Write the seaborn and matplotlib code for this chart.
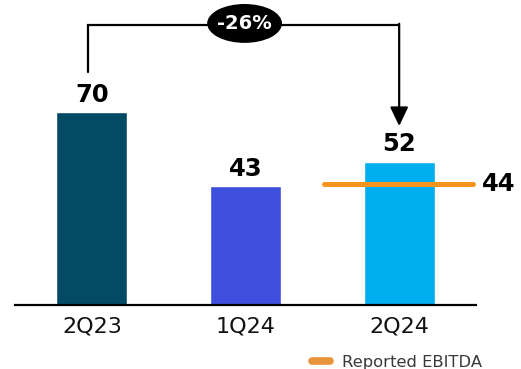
import matplotlib
matplotlib.use("Agg")
import matplotlib.pyplot as plt
from matplotlib.lines import Line2D
from matplotlib.patches import Ellipse
import seaborn as sns
import pandas as pd

# Quarterly EBITDA figures
quarters = ["2Q23", "1Q24", "2Q24"]
ebitda = [70, 43, 52]
bar_colors = ["#034A64", "#3F4FDD", "#00AEEF"]
reported_ebitda = 44
change_label = "-26%"
legend_label = "Reported EBITDA"

sns.set_theme(style="white")
plt.rcParams["font.family"] = ["DejaVu Sans"]

df = pd.DataFrame({"quarter": quarters, "ebitda": ebitda})

fig = plt.figure(figsize=(5.21, 3.69), dpi=100)
ax = fig.add_axes([15 / 521, 1 - 305 / 369, 461 / 521, 305 / 369])

sns.barplot(data=df, x="quarter", y="ebitda", hue="quarter",
            palette=bar_colors, width=0.46, legend=False, ax=ax,
            saturation=1)

ax.set_xlim(-0.5, 2.5)
ax.set_ylim(0, 110.6)
ax.set_xlabel("")
ax.set_ylabel("")
ax.set_yticks([])
for side in ["top", "left", "right"]:
    ax.spines[side].set_visible(False)
ax.spines["bottom"].set_color("black")
ax.spines["bottom"].set_linewidth(1.6)
ax.tick_params(axis="x", length=0, pad=8.5, labelsize=16, labelcolor="#111111")

# Value labels above the bars
for i, v in enumerate(ebitda):
    ax.annotate(f"{v}", xy=(i, v), xytext=(0, 7.5), textcoords="offset points",
                ha="center", va="baseline", fontsize=17.5, fontweight="bold",
                color="black")

# Reported EBITDA marker on the latest quarter
orange = "#F7941D"
ax.plot([1.51, 2.48], [reported_ebitda, reported_ebitda], color=orange,
        lw=3.6, solid_capstyle="round", zorder=3)
ax.text(2.54, reported_ebitda, f"{reported_ebitda}", ha="left", va="center",
        fontsize=17.5, fontweight="bold", color="black", clip_on=False)

# Change bracket from 2Q23 to 2Q24
y_top = 101.7
ax.plot([-0.022, -0.022, 2.0], [84.5, y_top, y_top], color="black", lw=1.6,
        solid_joinstyle="miter", zorder=4, clip_on=False)
ax.annotate("", xy=(2.0, 64.9), xytext=(2.0, y_top + 0.29),
            arrowprops=dict(arrowstyle="-|>,head_length=1.15,head_width=0.55",
                            mutation_scale=10, lw=1.6, color="black",
                            shrinkA=0, shrinkB=0),
            zorder=4)
ax.add_patch(Ellipse((0.994, 102.1), width=0.487, height=14.1,
                     facecolor="black", edgecolor="none", zorder=5,
                     clip_on=False))
ax.text(0.994, 102.1, change_label, ha="center", va="center", fontsize=14,
        fontweight="bold", color="white", zorder=6)

# Legend below the chart
handle = Line2D([], [], color="#E8943A", lw=5.5, solid_capstyle="round")
ax.legend([handle], [legend_label], loc="center left",
          bbox_to_anchor=(312 / 521, 1 - 362 / 369),
          bbox_transform=fig.transFigure, frameon=False, fontsize=11.8,
          handlelength=1.1, handletextpad=0.7, borderpad=0,
          borderaxespad=0, labelcolor="#3a3a3a")

fig.savefig("out.png", dpi=100)
